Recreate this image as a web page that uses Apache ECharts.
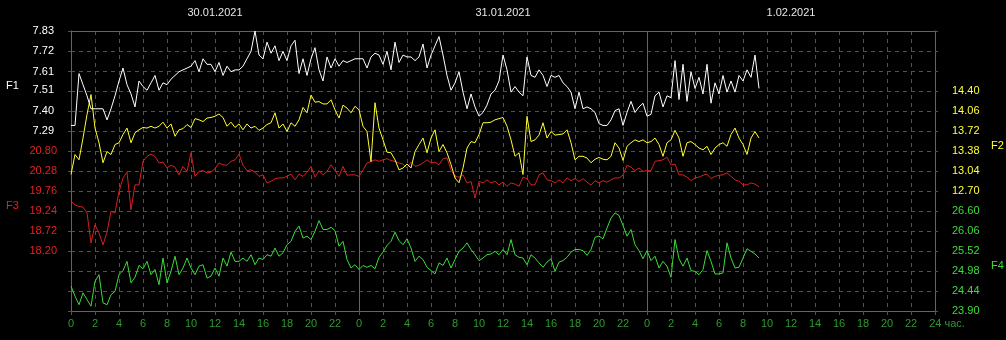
<!DOCTYPE html>
<html>
<head>
<meta charset="utf-8">
<script src="https://cdn.jsdelivr.net/npm/echarts@6/dist/echarts.min.js"></script>
<style>
html,body{margin:0;padding:0;background:#000;}
#chart{width:1006px;height:340px;}
</style>
</head>
<body>
<div id="chart"></div>
<script>
// ---- data (sampled every 20 minutes, starting 30.01.2021 00:00) ----
const STEP_HOURS = 1 / 3;
const dayLabels = ['30.01.2021', '31.01.2021', '1.02.2021'];
const dayCenters = [12, 36, 60];

const F1 = [7.32, 7.32, 7.60, 7.54, 7.48, 7.41, 7.41, 7.41, 7.41, 7.35, 7.41, 7.48, 7.56, 7.63, 7.54, 7.49, 7.42, 7.56, 7.53, 7.51, 7.55, 7.59, 7.51, 7.55, 7.54, 7.57, 7.59, 7.61, 7.62, 7.63, 7.64, 7.67, 7.61, 7.68, 7.65,
  7.65, 7.61, 7.66, 7.59, 7.64, 7.61, 7.62, 7.62, 7.64, 7.68, 7.72, 7.83, 7.70, 7.68, 7.77, 7.71, 7.75, 7.67, 7.72, 7.67, 7.75, 7.78, 7.60, 7.68, 7.59, 7.68, 7.74, 7.62, 7.56, 7.69, 7.63, 7.68, 7.64, 7.67, 7.66,
  7.67, 7.68, 7.68, 7.68, 7.63, 7.69, 7.71, 7.70, 7.65, 7.72, 7.62, 7.77, 7.66, 7.70, 7.69, 7.69, 7.67, 7.69, 7.76, 7.63, 7.70, 7.75, 7.80, 7.70, 7.59, 7.51, 7.55, 7.61, 7.50, 7.41, 7.49, 7.42, 7.37, 7.39,
  7.43, 7.49, 7.51, 7.56, 7.70, 7.62, 7.50, 7.53, 7.50, 7.48, 7.69, 7.59, 7.58, 7.62, 7.59, 7.53, 7.59, 7.58, 7.59, 7.55, 7.53, 7.50, 7.41, 7.50, 7.41, 7.42, 7.41, 7.39, 7.33, 7.32, 7.32, 7.35, 7.40, 7.41, 7.32,
  7.39, 7.45, 7.39, 7.42, 7.44, 7.37, 7.38, 7.48, 7.50, 7.42, 7.48, 7.47, 7.67, 7.46, 7.65, 7.45, 7.61, 7.52, 7.58, 7.49, 7.65, 7.44, 7.55, 7.49, 7.59, 7.50, 7.56, 7.50, 7.59, 7.56, 7.62, 7.58, 7.70, 7.52];

const F2 = [12.98, 13.32, 13.23, 13.60, 14.00, 14.34, 13.77, 13.52, 13.18, 13.37, 13.32, 13.49, 13.52, 13.66, 13.77, 13.52, 13.69, 13.74, 13.78, 13.77, 13.80, 13.77, 13.80, 13.87, 13.77, 13.84, 13.63, 13.74, 13.76, 13.83, 13.78, 13.93, 13.91, 13.88, 13.94,
  13.95, 13.97, 14.01, 13.95, 13.80, 13.87, 13.78, 13.84, 13.74, 13.84, 13.77, 13.80, 13.73, 13.77, 13.83, 13.86, 14.03, 13.77, 13.84, 13.71, 13.86, 13.80, 13.91, 14.12, 14.03, 14.33, 14.21, 14.22, 14.18, 14.18, 14.25, 14.08, 13.94, 14.16, 14.11,
  14.03, 14.14, 14.08, 13.80, 13.71, 13.20, 14.20, 13.77, 13.57, 13.36, 13.35, 13.23, 13.06, 13.09, 13.16, 13.09, 13.37, 13.49, 13.60, 13.35, 13.60, 13.74, 13.37, 13.49, 13.35, 13.15, 12.92, 12.84, 13.09, 13.43, 13.54, 13.52, 13.66, 13.86,
  13.86, 13.87, 13.91, 13.93, 13.95, 13.80, 13.57, 13.29, 13.35, 12.98, 13.97, 13.54, 13.57, 13.65, 13.86, 13.60, 13.71, 13.65, 13.66, 13.67, 13.74, 13.52, 13.23, 13.29, 13.29, 13.26, 13.18, 13.24, 13.27, 13.24, 13.23, 13.29, 13.52, 13.43, 13.22,
  13.46, 13.52, 13.57, 13.54, 13.57, 13.52, 13.54, 13.60, 13.49, 13.29, 13.52, 13.57, 13.73, 13.60, 13.29, 13.52, 13.54, 13.49, 13.43, 13.40, 13.46, 13.32, 13.43, 13.49, 13.52, 13.46, 13.66, 13.77, 13.60, 13.49, 13.32, 13.60, 13.71, 13.60];

const F3 = [19.49, 19.40, 19.36, 19.34, 19.19, 18.41, 18.88, 18.67, 18.36, 18.69, 19.23, 19.19, 19.75, 20.10, 20.25, 19.27, 19.92, 19.92, 20.53, 20.66, 20.72, 20.66, 20.49, 20.51, 20.36, 20.43, 20.38, 20.18, 20.40, 20.27, 20.75, 20.14, 20.27, 20.29, 20.23,
  20.25, 20.34, 20.49, 20.44, 20.43, 20.53, 20.57, 20.72, 20.43, 20.29, 20.31, 20.25, 20.14, 20.18, 19.97, 20.01, 20.08, 20.10, 20.10, 20.14, 20.20, 20.05, 20.20, 20.14, 20.25, 20.40, 20.12, 20.29, 20.18, 20.27, 20.44, 20.29, 20.14, 20.40, 20.17,
  20.18, 20.18, 20.14, 20.31, 20.49, 20.53, 20.57, 20.53, 20.57, 20.60, 20.55, 20.53, 20.49, 20.46, 20.36, 20.51, 20.40, 20.43, 20.49, 20.57, 20.49, 20.51, 20.44, 20.60, 20.62, 20.31, 20.14, 20.12, 20.18, 19.97, 20.01, 19.58, 20.01, 19.97,
  20.05, 19.97, 20.01, 19.92, 19.99, 19.88, 19.97, 19.94, 19.88, 20.12, 20.08, 19.92, 19.92, 20.18, 20.23, 20.05, 20.03, 19.97, 20.05, 19.97, 20.10, 20.03, 20.08, 20.01, 20.08, 19.99, 19.91, 20.03, 19.97, 20.03, 19.99, 20.05, 20.10, 20.10, 20.17,
  20.43, 20.38, 20.29, 20.36, 20.27, 20.29, 20.29, 20.53, 20.55, 20.57, 20.64, 20.44, 20.46, 20.18, 20.18, 20.12, 20.03, 20.10, 20.12, 20.17, 20.20, 20.08, 20.14, 20.17, 20.18, 20.23, 20.14, 20.05, 20.01, 19.92, 19.92, 19.97, 19.94, 19.87];

const F4 = [24.57, 24.30, 24.07, 24.39, 24.21, 24.03, 24.70, 24.88, 24.12, 24.07, 24.34, 24.43, 24.88, 24.99, 25.24, 24.66, 24.81, 25.13, 25.04, 25.24, 24.88, 25.02, 24.61, 25.33, 24.66, 24.97, 25.38, 24.88, 25.06, 25.33, 25.06, 24.88, 25.11, 25.15, 24.79,
  24.84, 25.06, 24.84, 25.33, 25.11, 25.49, 25.24, 25.24, 25.33, 25.24, 25.42, 25.15, 25.33, 25.29, 25.42, 25.38, 25.60, 25.38, 25.47, 25.69, 25.78, 26.05, 26.19, 25.87, 25.92, 25.83, 26.05, 26.34, 26.10, 26.10, 26.16, 26.07, 25.65, 25.78, 25.29,
  25.06, 25.15, 25.02, 25.13, 25.08, 25.13, 25.04, 25.35, 25.49, 25.67, 25.78, 26.03, 25.80, 25.69, 25.85, 25.60, 25.24, 25.38, 25.29, 25.08, 24.99, 24.90, 25.20, 25.13, 25.33, 25.06, 25.29, 25.51, 25.60, 25.74, 25.56, 25.42, 25.26, 25.33,
  25.42, 25.44, 25.51, 25.42, 25.56, 25.42, 25.83, 25.42, 25.35, 25.33, 25.15, 25.42, 25.33, 25.20, 25.08, 25.22, 25.31, 24.97, 25.22, 25.26, 25.35, 25.49, 25.56, 25.56, 25.53, 25.40, 25.56, 25.89, 25.92, 25.85, 26.14, 26.41, 26.55, 26.48, 26.21,
  25.92, 26.10, 25.69, 25.53, 25.31, 25.53, 25.26, 25.38, 25.06, 25.24, 25.11, 24.81, 25.83, 25.31, 25.11, 25.33, 24.99, 24.97, 24.88, 25.02, 25.53, 25.24, 24.90, 24.90, 24.93, 25.74, 25.33, 25.06, 25.08, 25.33, 25.58, 25.51, 25.44, 25.33];

// tick labels shown on each axis
const F1_TICKS = [7.29, 7.40, 7.51, 7.61, 7.72, 7.83];
const F3_TICKS = [18.20, 18.72, 19.24, 19.76, 20.28, 20.80];
const F2_TICKS = [12.70, 13.04, 13.38, 13.72, 14.06, 14.40];
const F4_TICKS = [23.90, 24.44, 24.98, 25.52, 26.06, 26.60];

// axis ranges (14 grid rows)
const F1_RANGE = [6.318, 7.83];
const F3_RANGE = [16.64, 23.92];
const F2_RANGE = [10.66, 15.42];
const F4_RANGE = [23.90, 31.46];

// ---- styling ----
const FONT = 'Liberation Sans';
const FRAME = '#2a8c2a';
const GRID = '#1a7a1a';
const XLAB = '#2f9a2f';
const C1 = '#ffffff', C2 = '#ffff33', C3 = '#e02222', C4 = '#3ddc3d';
const LINE3 = '#d42020';

const toPairs = arr => arr.map((v, i) => [i * STEP_HOURS, v]);

function valueAxis(range, ticks, color, pos, margin) {
  return {
    type: 'value', position: pos, min: range[0], max: range[1],
    axisLine: {show: false}, axisTick: {show: false}, splitLine: {show: false},
    axisLabel: {
      customValues: ticks, color: color, fontFamily: FONT, fontSize: 11, margin: margin,
      padding: [4, 0, 0, 0],
      formatter: v => Number(v).toFixed(2)
    }
  };
}

const chart = echarts.init(document.getElementById('chart'), null, {renderer: 'canvas'});
chart.setOption({
  backgroundColor: '#000',
  animation: false,
  grid: {left: 71, right: 71, top: 31, bottom: 29, containLabel: false},
  xAxis: [
    {
      type: 'value', position: 'bottom', min: 0, max: 72, interval: 2,
      axisLine: {show: true, onZero: false, lineStyle: {color: FRAME, width: 1}},
      axisTick: {show: true, length: 4, lineStyle: {color: GRID}},
      splitLine: {show: true, lineStyle: {color: GRID, type: [4, 4], width: 1}},
      axisLabel: {
        color: XLAB, fontFamily: FONT, fontSize: 11, margin: 7,
        formatter: v => v === 72 ? '{last|24 час.}' : String(v % 24),
        rich: {last: {color: XLAB, fontFamily: FONT, fontSize: 11, padding: [0, 0, 0, 24]}}
      }
    },
    {
      type: 'value', position: 'top', min: 0, max: 72,
      axisLine: {show: true, onZero: false, lineStyle: {color: FRAME, width: 1}},
      axisTick: {show: false}, splitLine: {show: false},
      axisLabel: {
        customValues: dayCenters, color: '#e6e6e6', fontFamily: FONT, fontSize: 11, margin: 13,
        formatter: v => dayLabels[dayCenters.indexOf(Math.round(v))] || ''
      }
    },
    {
      type: 'value', position: 'bottom', min: 0, max: 72, interval: 24,
      axisLine: {show: false}, axisTick: {show: false}, axisLabel: {show: false},
      splitLine: {show: true, lineStyle: {color: FRAME, type: 'solid', width: 1}}
    }
  ],
  yAxis: [
    {
      type: 'value', position: 'left', min: 0, max: 14, interval: 1,
      axisLine: {show: true, onZero: false, lineStyle: {color: FRAME}},
      axisTick: {show: true, length: 3, lineStyle: {color: GRID}},
      axisLabel: {show: false},
      splitLine: {show: true, lineStyle: {color: GRID, type: [4, 4], width: 1}}
    },
    {
      type: 'value', position: 'right', min: 0, max: 14, interval: 1,
      axisLine: {show: true, onZero: false, lineStyle: {color: FRAME}},
      axisTick: {show: true, length: 6, lineStyle: {color: GRID, type: [3, 3]}},
      axisLabel: {show: false}, splitLine: {show: false}
    },
    valueAxis(F1_RANGE, F1_TICKS, C1, 'left', 17),
    valueAxis(F3_RANGE, F3_TICKS, C3, 'left', 14),
    valueAxis(F2_RANGE, F2_TICKS, C2, 'right', 17),
    valueAxis(F4_RANGE, F4_TICKS, C4, 'right', 17)
  ],
  graphic: [
    {type: 'text', left: 6, top: 80, style: {text: 'F1', fill: C1, font: '11px ' + FONT}},
    {type: 'text', left: 6, top: 200, style: {text: 'F3', fill: C3, font: '11px ' + FONT}},
    {type: 'text', left: 991, top: 140, style: {text: 'F2', fill: C2, font: '11px ' + FONT}},
    {type: 'text', left: 991, top: 260, style: {text: 'F4', fill: C4, font: '11px ' + FONT}}
  ],
  series: [
    {name: 'F1', type: 'line', xAxisIndex: 0, yAxisIndex: 2, data: toPairs(F1), showSymbol: false, symbol: 'none', lineStyle: {color: C1, width: 1}, z: 5},
    {name: 'F2', type: 'line', xAxisIndex: 0, yAxisIndex: 4, data: toPairs(F2), showSymbol: false, symbol: 'none', lineStyle: {color: C2, width: 1}, z: 4},
    {name: 'F3', type: 'line', xAxisIndex: 0, yAxisIndex: 3, data: toPairs(F3), showSymbol: false, symbol: 'none', lineStyle: {color: LINE3, width: 1}, z: 3},
    {name: 'F4', type: 'line', xAxisIndex: 0, yAxisIndex: 5, data: toPairs(F4), showSymbol: false, symbol: 'none', lineStyle: {color: C4, width: 1}, z: 3}
  ]
});
</script>
</body>
</html>
